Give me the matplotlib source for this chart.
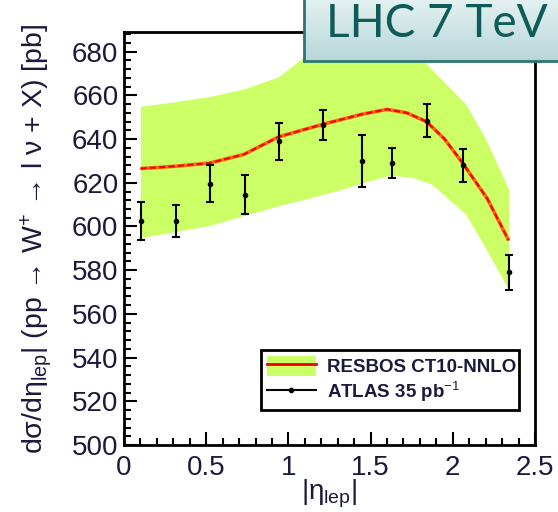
import numpy as np
import matplotlib.pyplot as plt
from matplotlib.patches import Patch
from matplotlib.lines import Line2D
from matplotlib.ticker import MultipleLocator

# ATLAS 35 pb^-1 W+ lepton pseudorapidity data
eta_pts = [0.105, 0.315, 0.525, 0.735, 0.945, 1.21, 1.445, 1.63, 1.845, 2.065, 2.34]
xsec = [602.5, 602.5, 619.5, 614.5, 639, 646.5, 630, 629, 648.5, 628, 579]
xsec_err = [8.5, 7.5, 8.5, 9, 8.5, 7, 12, 7, 7.5, 7.5, 8]

# RESBOS CT10-NNLO central curve
eta_th = [0.1, 0.3, 0.52, 0.73, 0.94, 1.21, 1.45, 1.6, 1.72, 1.84, 1.95, 2.06, 2.21, 2.34]
xsec_th = [626.5, 627.5, 629, 633, 641, 646.8, 651.4, 653.6, 652, 648, 640, 629, 612.7, 593.6]

# PDF uncertainty band
eta_band = [0.1, 0.3, 0.52, 0.73, 0.94, 1.1, 1.3, 1.45, 1.62, 1.75, 1.87, 2.08, 2.2, 2.34]
band_hi = [655, 657, 659.5, 663, 668.5, 678, 685, 688, 688, 682, 672, 656, 640, 617]
band_lo = [595, 597.5, 600.5, 605, 609.5, 612.5, 616.5, 620, 623.5, 622.5, 619.5, 605.5, 590, 571]

txt_col = '#1a1a3c'
plt.rcParams['font.family'] = ['Liberation Sans', 'DejaVu Sans']
plt.rcParams['mathtext.fontset'] = 'custom'
plt.rcParams['mathtext.rm'] = 'Liberation Sans'
plt.rcParams['mathtext.it'] = 'Liberation Sans'

fig = plt.figure(figsize=(5.58, 5.12), dpi=100)
ax = fig.add_axes([124 / 558, 1 - 445 / 512, 411 / 558, 413 / 512])

ax.fill_between(eta_band, band_lo, band_hi, color='#ccff66', lw=0, zorder=1)
ax.plot(eta_th, xsec_th, color='#ff6a00', lw=2.6, zorder=2, solid_capstyle='butt')
ax.plot(eta_th, xsec_th, color='#ee0000', lw=1.5, ls=(0, (3, 1.5)), zorder=3)
ax.errorbar(eta_pts, xsec, yerr=xsec_err, fmt='o', ms=3, color='black',
            ecolor='black', elinewidth=1.5, capsize=2.7, capthick=1.5, zorder=4)

ax.set_xlim(0, 2.5)
ax.set_ylim(500, 689)
ax.xaxis.set_major_locator(MultipleLocator(0.5))
ax.xaxis.set_minor_locator(MultipleLocator(0.1))
ax.yaxis.set_major_locator(MultipleLocator(20))
ax.yaxis.set_minor_locator(MultipleLocator(4))
ax.set_xticks([0, 0.5, 1, 1.5, 2, 2.5])
ax.set_xticklabels(['0', '0.5', '1', '1.5', '2', '2.5'])
ax.tick_params(which='both', direction='in', top=False, right=False,
               labelsize=20, labelcolor=txt_col, width=1.5)
ax.tick_params(which='major', length=9.5, pad=4)
ax.tick_params(which='minor', length=5)
ax.tick_params(axis='x', pad=7)
for s in ax.spines.values():
    s.set_linewidth(2)

ax.set_xlabel(r'|$\eta_{lep}$|', fontsize=20, color=txt_col, labelpad=-2)
ax.set_ylabel('d$\\sigma$/d$\\eta_{lep}$| (pp \u2192 W$^{+}$ \u2192 l \u03bd + X) [pb]',
              fontsize=20.5, color=txt_col, labelpad=13)

h_th = (Patch(facecolor='#ccff66', edgecolor='none'),
        Line2D([], [], color='#ee0000', lw=2))
h_data = Line2D([], [], color='black', lw=1.5, marker='o', ms=3)
leg = ax.legend([h_th, h_data], ['RESBOS CT10-NNLO', r'ATLAS 35 pb$^{-1}$'],
                loc='lower left', bbox_to_anchor=(0.311, 0.063, 0.672, 0.138),
                mode='expand', fancybox=False, edgecolor='black', framealpha=1,
                prop={'weight': 'bold', 'size': 13.5}, handlelength=2.6,
                handleheight=1.3, labelspacing=0.2, borderpad=0.3, handletextpad=0.6)
leg.get_frame().set_linewidth(2)
for t in leg.get_texts():
    t.set_color(txt_col)

# title box with vertical gradient
bx = fig.add_axes([304 / 558, 1 - 61 / 512, 260 / 558, 70 / 512], zorder=10)
grad = np.linspace(0, 1, 100).reshape(-1, 1)
top_c = np.array([0.92, 0.96, 0.96])
bot_c = np.array([0.72, 0.84, 0.85])
img = top_c + (bot_c - top_c) * grad[:, :, None] * np.ones((1, 1, 3))
bx.imshow(img, aspect='auto', extent=[0, 1, 0, 1], origin='upper')
bx.set_xlim(0, 1)
bx.set_ylim(0, 1)
bx.set_xticks([])
bx.set_yticks([])
for s in bx.spines.values():
    s.set_color('#2b7674')
    s.set_linewidth(2)
bx.text(0.085, 0.53, 'LHC 7 TeV', fontsize=33, color='#0e5c58', family='Lato',
        ha='left', va='center')

fig.savefig('out.png', dpi=100)
